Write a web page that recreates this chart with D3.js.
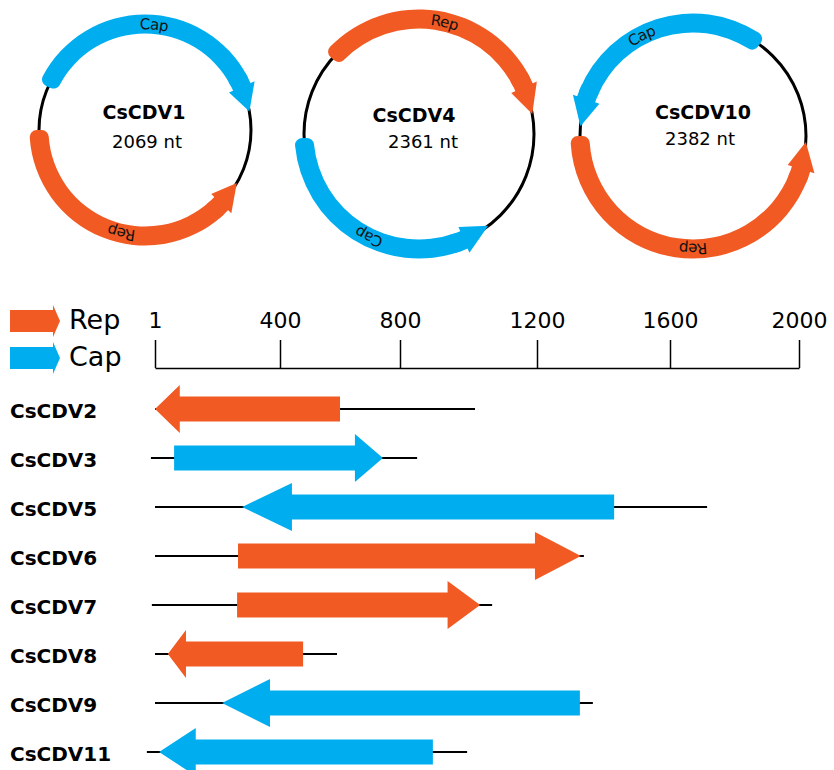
<!DOCTYPE html>
<html>
<head>
<meta charset="utf-8">
<script src="https://cdn.jsdelivr.net/npm/d3@7"></script>
<style>
  body { margin: 0; background: #fff; }
  svg { display: block; }
</style>
</head>
<body>
<div id="chart"></div>
<script>
const REP = '#F15A22', CAP = '#00AEEF';

// circular genomes
const circNames = ['CsCDV1', 'CsCDV4', 'CsCDV10'];
const circLengths = [2069, 2361, 2382];
// arcs in degrees (0 = top, clockwise), arrow tip at "to"
const circRepFrom = [270, -49, 270];
const circRepTo = [120, 80, 93];
const circCapFrom = [-66, 268, 36];
const circCapTo = [80, 143, -85];
const circRepLabelAt = [193, 13, 180];
const circCapLabelAt = [5, 206, -27];

// linear genomes
const linNames = ['CsCDV2', 'CsCDV3', 'CsCDV5', 'CsCDV6', 'CsCDV7', 'CsCDV8', 'CsCDV9', 'CsCDV11'];
const linStart = [1, -12, 1, 1, -9, 1, 1, -25];
const linEnd = [1019, 850, 1715, 1341, 1069, 590, 1368, 996];
const orfType = ['Rep', 'Cap', 'Cap', 'Rep', 'Rep', 'Rep', 'Cap', 'Cap'];
const orfFrom = [600, 62, 1432, 266, 263, 477, 1329, 896];   // tail end
const orfTo = [1, 743, 279, 1332, 1034, 42, 215, 14];        // arrow tip
const axisTicks = [1, 400, 800, 1200, 1600, 2000];

const legendNames = ['Rep', 'Cap'];
const colorOf = d3.scaleOrdinal().domain(legendNames).range([REP, CAP]);

const svg = d3.select('#chart').append('svg')
  .attr('width', 834)
  .attr('height', 770)
  .style('font-family', '"DejaVu Sans", Verdana, sans-serif');

// ---- circles ----
const rad = a => a * Math.PI / 180;
const pt = (c, r, a) => [c.x + r * Math.sin(rad(a)), c.y - r * Math.cos(rad(a))];

const circLayout = [
  { x: 145, y: 130, r: 106, tx: -1, ty: -11, sx: 2, sy: 18 },
  { x: 419, y: 134, r: 115, tx: -5, ty: -12, sx: 4, sy: 14 },
  { x: 693, y: 136, r: 113, tx: 10, ty: -17, sx: 7, sy: 9 }
];
const bandHalf = 9.5, headHalf = 14, headDeg = 14;

const drawGene = (g, c, from, to, color) => {
  const sign = to > from ? 1 : -1;
  const base = to - sign * headDeg;
  const band = d3.arc().innerRadius(c.r - bandHalf).outerRadius(c.r + bandHalf);
  g.append('path')
    .attr('transform', `translate(${c.x},${c.y})`)
    .attr('d', band.cornerRadius(7)({ startAngle: rad(from), endAngle: rad(base) }))
    .attr('fill', color);
  g.append('path')
    .attr('transform', `translate(${c.x},${c.y})`)
    .attr('d', d3.arc().innerRadius(c.r - bandHalf).outerRadius(c.r + bandHalf)
      ({ startAngle: rad(base - sign * 6), endAngle: rad(base + sign * 1) }))
    .attr('fill', color);
  const p1 = pt(c, c.r - headHalf, base), p2 = pt(c, c.r + headHalf, base), tip = pt(c, c.r, to);
  g.append('path')
    .attr('d', `M${p1}L${tip}L${p2}Z`)
    .attr('fill', color);
};

const arcLabel = (g, c, id, at, txt) => {
  const a0 = pt(c, c.r, at - 180), a1 = pt(c, c.r, at);
  g.append('path')
    .attr('id', id)
    .attr('d', `M${a0}A${c.r},${c.r} 0 1 1 ${a1}A${c.r},${c.r} 0 1 1 ${a0}`)
    .attr('fill', 'none');
  g.append('text')
    .attr('font-size', 15)
    .attr('fill', '#111')
    .attr('dy', '0.35em')
    .append('textPath')
    .attr('href', '#' + id)
    .attr('startOffset', '50%')
    .attr('text-anchor', 'middle')
    .text(txt);
};

circNames.forEach((name, i) => {
  const c = circLayout[i];
  const g = svg.append('g');
  g.append('circle')
    .attr('cx', c.x).attr('cy', c.y).attr('r', c.r)
    .attr('fill', 'none').attr('stroke', '#000').attr('stroke-width', 3);
  drawGene(g, c, circCapFrom[i], circCapTo[i], CAP);
  drawGene(g, c, circRepFrom[i], circRepTo[i], REP);
  arcLabel(g, c, 'cap' + i, circCapLabelAt[i], 'Cap');
  arcLabel(g, c, 'rep' + i, circRepLabelAt[i], 'Rep');
  g.append('text')
    .attr('x', c.x + c.tx).attr('y', c.y + c.ty)
    .attr('text-anchor', 'middle')
    .attr('font-size', 19).attr('font-weight', 'bold')
    .text(name);
  g.append('text')
    .attr('x', c.x + c.sx).attr('y', c.y + c.sy)
    .attr('text-anchor', 'middle')
    .attr('font-size', 18)
    .text(circLengths[i] + ' nt');
});

// ---- legend ----
const legend = svg.append('g');
legendNames.forEach((n, i) => {
  const cy = 321 + i * 37;
  legend.append('path')
    .attr('d', `M10,${cy - 11}H53V${cy - 16}L60,${cy}L53,${cy + 16}V${cy + 11}H10Z`)
    .attr('fill', colorOf(n));
  legend.append('text')
    .attr('x', 69).attr('y', cy + 8)
    .attr('font-size', 27)
    .text(n);
});

// ---- linear genomes ----
const x = d3.scaleLinear().domain(axisTicks).range([155, 280, 400, 537, 670, 799]);
const y = d3.scalePoint().domain(linNames).range([409, 752]);

const axis = svg.append('g')
  .attr('transform', 'translate(0,368)')
  .call(d3.axisTop(x).tickValues(axisTicks).tickSize(28).tickSizeOuter(0)
    .tickPadding(12).tickFormat(d3.format('d')));
axis.attr('font-family', null).attr('font-size', 22);
axis.selectAll('line, path').attr('stroke', '#000').attr('stroke-width', 1.5);
axis.selectAll('text').attr('fill', '#000');

const rows = svg.append('g').selectAll('g')
  .data(linNames)
  .enter()
  .append('g');

rows.append('line')
  .attr('x1', (d, i) => x(linStart[i]))
  .attr('x2', (d, i) => x(linEnd[i]))
  .attr('y1', d => y(d)).attr('y2', d => y(d))
  .attr('stroke', '#000').attr('stroke-width', 2);

rows.append('path')
  .attr('fill', (d, i) => colorOf(orfType[i]))
  .attr('d', (d, i) => {
    const tail = x(orfFrom[i]), tip = x(orfTo[i]), cy = y(d);
    const sign = tip > tail ? 1 : -1;
    const base = tip - sign * 0.134 * Math.abs(tip - tail);
    const bh = 12.5, hh = 24;
    return `M${tail},${cy - bh}H${base}V${cy - hh}L${tip},${cy}L${base},${cy + hh}V${cy + bh}H${tail}Z`;
  });

rows.append('text')
  .attr('x', 10)
  .attr('y', d => y(d) + 9)
  .attr('font-size', 20).attr('font-weight', 'bold')
  .text(d => d);
</script>
</body>
</html>
